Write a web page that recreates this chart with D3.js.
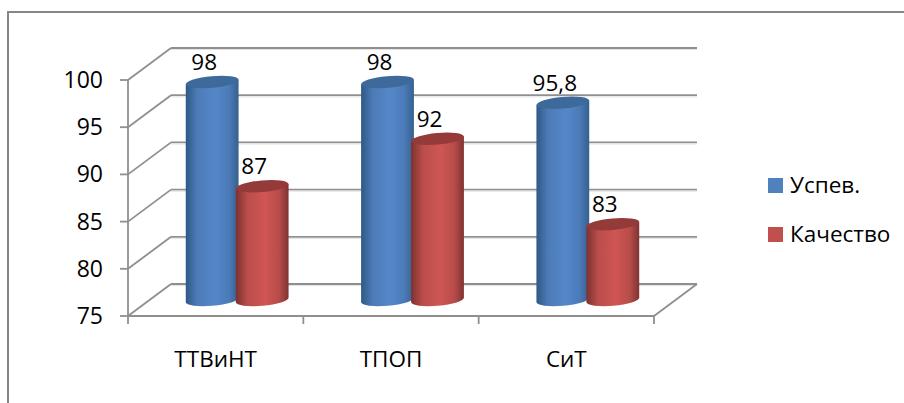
<!DOCTYPE html>
<html>
<head>
<meta charset="utf-8">
<script src="https://cdn.jsdelivr.net/npm/d3@7"></script>
<style>
html, body { margin: 0; background: #fff; }
svg { display: block; }
text { font-family: "Open Sans", "Noto Sans", sans-serif; fill: #000; }
</style>
</head>
<body>
<div id="chart"></div>
<script>
var categories = ["ТТВиНТ", "ТПОП", "СиТ"];
var seriesNames = ["Успев.", "Качество"];
var uspev = [98, 98, 95.8];
var kachestvo = [87, 92, 83];
var valueLabels = [["98", "98", "95,8"], ["87", "92", "83"]];
var yTicks = [75, 80, 85, 90, 95, 100];

var w = 904, h = 403;
var depthX = 43, depthY = -32;   // front-to-back shift of the 3D box
var colors = ["#4f81bd", "#c0504d"];
var tops = ["#3d6a9b", "#943a38"];

var svg = d3.select("#chart").append("svg").attr("width", w).attr("height", h);

// chart frame
svg.append("path")
    .attr("d", "M8,403V12H904")
    .attr("fill", "none").attr("stroke", "#868686").attr("stroke-width", 2);

var xScale = d3.scaleBand().domain(categories).range([128, 654]);
var yFront = d3.scaleLinear().domain([75, 100]).range([316, 80]);
// the cylinders stand half way into the box
var yBar = d3.scaleLinear().domain([75, 100]).range([300, 63]);
var xInner = d3.scaleBand().domain([0, 1]).range([0, 100]);

// horizontal gradients for the cylinder bodies
var defs = svg.append("defs");
[["g0", "#2f5885", "#5587c8", "#35608f"], ["g1", "#7c3230", "#cf5653", "#7e3331"]].forEach(function(g) {
    var grad = defs.append("linearGradient").attr("id", g[0]);
    grad.append("stop").attr("offset", "0%").attr("stop-color", g[1]);
    grad.append("stop").attr("offset", "22%").attr("stop-color", d3.interpolateRgb(g[1], g[2])(0.75));
    grad.append("stop").attr("offset", "55%").attr("stop-color", g[2]);
    grad.append("stop").attr("offset", "82%").attr("stop-color", d3.interpolateRgb(g[3], g[2])(0.7));
    grad.append("stop").attr("offset", "100%").attr("stop-color", g[3]);
});

// walls and grid
var grid = svg.append("g").attr("fill", "none").attr("stroke", "#8f8f8f").attr("stroke-width", 1.8);
yTicks.forEach(function(t) {
    var yf = yFront(t);
    grid.append("line").attr("x1", xScale.range()[0] + depthX).attr("x2", xScale.range()[1] + depthX)
        .attr("y1", yf + depthY).attr("y2", yf + depthY);
    grid.append("line").attr("x1", xScale.range()[0] + depthX).attr("x2", xScale.range()[1] + depthX)
        .attr("y1", yf + depthY + 1.6).attr("y2", yf + depthY + 1.6)
        .attr("stroke", "#e2e2e2").attr("stroke-width", 1);
    grid.append("line").attr("x1", xScale.range()[0]).attr("x2", xScale.range()[0] + depthX)
        .attr("y1", yf).attr("y2", yf + depthY);
    grid.append("line").attr("x1", xScale.range()[0] - 8).attr("x2", xScale.range()[0])
        .attr("y1", yf).attr("y2", yf);
});
grid.append("line").attr("x1", 128).attr("x2", 128).attr("y1", yFront(100)).attr("y2", yFront(75) + 8);
grid.append("line").attr("x1", 128).attr("x2", 654).attr("y1", yFront(75)).attr("y2", yFront(75));
grid.append("line").attr("x1", 654).attr("x2", 654 + depthX).attr("y1", yFront(75)).attr("y2", yFront(75) + depthY);
categories.forEach(function(c) {
    var x = xScale(c) + xScale.bandwidth();
    grid.append("line").attr("x1", x).attr("x2", x).attr("y1", yFront(75)).attr("y2", yFront(75) + 8);
});

// y labels
svg.append("g").selectAll("text").data(yTicks).join("text")
    .attr("x", 103).attr("y", function(d) { return yFront(d) + 8; })
    .attr("text-anchor", "end").attr("font-size", 23)
    .text(function(d) { return d; });

// x labels
svg.append("g").selectAll("text").data(categories).join("text")
    .attr("x", function(d) { return xScale(d) + xScale.bandwidth() / 2; })
    .attr("y", 367).attr("text-anchor", "middle").attr("font-size", 22.5)
    .text(function(d) { return d; });

// cylinders, drawn series by series so the red overlaps the blue
var rx = 26.5, ry = 5.8, tilt = -5;
var dxE = rx * Math.cos(tilt * Math.PI / 180);
var dyE = rx * Math.sin(tilt * Math.PI / 180);

[uspev, kachestvo].forEach(function(values, s) {
    var bars = svg.append("g");
    values.forEach(function(v, i) {
        var cx = xScale(categories[i]) + xScale.bandwidth() / 2 + depthX / 2 - 50 + xInner(s) + xInner.bandwidth() / 2;
        var yt = yBar(v), yb = yBar(75);
        bars.append("path")
            .attr("d", "M" + (cx - dxE) + "," + (yt - dyE) +
                "L" + (cx - dxE) + "," + (yb - dyE) +
                "A" + rx + "," + ry + " " + tilt + " 0 0 " + (cx + dxE) + "," + (yb + dyE) +
                "L" + (cx + dxE) + "," + (yt + dyE) + "Z")
            .attr("fill", "url(#g" + s + ")");
        bars.append("ellipse")
            .attr("rx", rx).attr("ry", ry)
            .attr("transform", "translate(" + cx + "," + yt + ") rotate(" + tilt + ")")
            .attr("fill", tops[s]);
        svg.append("text")
            .attr("x", cx - 8)
            .attr("y", yt - 12).attr("text-anchor", "middle").attr("font-size", 22.5)
            .text(valueLabels[s][i]);
    });
});

// legend
var legend = svg.append("g").selectAll("g").data(seriesNames).join("g")
    .attr("transform", function(d, i) { return "translate(768," + (178 + i * 49) + ")"; });
legend.append("rect").attr("width", 15).attr("height", 15)
    .attr("fill", function(d, i) { return colors[i]; });
legend.append("text").attr("x", 22).attr("y", 15).attr("font-size", 22.5)
    .text(function(d) { return d; });
</script>
</body>
</html>
